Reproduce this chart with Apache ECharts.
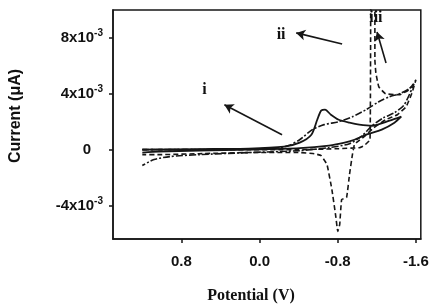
<!DOCTYPE html>
<html>
<head>
<meta charset="utf-8">
<script src="https://cdn.jsdelivr.net/npm/echarts@6/dist/echarts.min.js"></script>
<style>
html,body{margin:0;padding:0;background:#fff;}
#chart{width:433px;height:305px;}
</style>
</head>
<body>
<div id="chart"></div>
<script>
// Potential (V) and current (in units of 10^-3)
const potentialTicks = [0.8, 0.0, -0.8, -1.6];
const currentTicks = [-4, 0, 4, 8];

// curve i (solid)
const iPotential = [1.20, 0.62, 0.11, -0.25, -0.41, -0.53, -0.59, -0.63, -0.67, -0.73, -0.81, -0.92, -1.02, -1.15, -1.33, -1.45,
  -1.38, -1.25, -1.09, -0.97, -0.87, -0.71, -0.41, 0.11, 0.62, 1.03, 1.20];
const iCurrent = [0.00, 0.04, 0.07, 0.21, 0.50, 1.07, 2.14, 2.79, 2.86, 2.50, 2.14, 1.93, 1.79, 1.71, 2.07, 2.36,
  1.93, 1.43, 1.07, 0.71, 0.50, 0.29, 0.11, 0.00, -0.07, -0.14, -0.21];

// curve ii (dash-dot)
const iiPotential = [1.20, 0.62, 0.11, -0.20, -0.30, -0.41, -0.54, -0.66, -0.81, -0.95, -1.09, -1.22, -1.33, -1.43, -1.53, -1.58,
  -1.48, -1.38, -1.27, -1.15, -1.05, -0.92, -0.71, -0.41, 0.11, 0.62, 0.92, 1.08, 1.20];
const iiCurrent = [0.00, 0.00, 0.04, 0.14, 0.29, 0.71, 1.43, 1.79, 2.00, 2.36, 2.86, 3.43, 3.79, 4.00, 4.36, 4.71,
  3.21, 2.64, 2.29, 1.71, 1.00, 0.43, 0.14, -0.07, -0.21, -0.36, -0.50, -0.71, -1.14];

// curve iii (dashed) - goes off scale near -1.15 V
const iiiPotential = [1.20, 0.62, 0.11, -0.41, -0.81, -1.02, -1.07, -1.13, -1.14, -1.18, -1.18, -1.19, -1.22, -1.29, -1.43, -1.53, -1.60,
  -1.56, -1.50, -1.41, -1.29, -1.17, -1.07, -0.99, -0.97, -0.95, -0.92, -0.89, -0.84, -0.82, -0.80, -0.78, -0.74, -0.69, -0.63, -0.56, -0.41, 0.11, 0.62, 1.03, 1.20];
const iiiCurrent = [0.00, 0.00, 0.00, 0.00, 0.07, 0.14, 0.29, 0.71, 11.5, 11.5, 6.43, 5.50, 4.50, 4.00, 3.93, 4.29, 5.00,
  4.07, 3.07, 2.50, 2.14, 1.57, 0.93, 0.50, 0.36, -0.36, -1.79, -3.43, -3.57, -5.36, -5.86, -4.79, -2.86, -1.07, -0.43, -0.29, -0.21, -0.21, -0.29, -0.36, -0.36];

// annotation labels and arrows (potential, current)
const labelNames = ['i', 'ii', 'iii'];
const labelPos = [[0.565, 4.29], [-0.22, 8.21], [-1.19, 9.43]];
const arrowFrom = [[-0.23, 1.07], [-0.845, 7.57], [-1.294, 6.21]];
const arrowTo = [[0.36, 3.21], [-0.375, 8.36], [-1.202, 8.43]];

function pairs(xs, ys) { return xs.map((x, k) => [x, ys[k]]); }

const ink = '#161616';
const sans = '"Liberation Sans", Arial, sans-serif';
const serif = '"Liberation Serif", "Times New Roman", serif';
const chart = echarts.init(document.getElementById('chart'));
chart.setOption({
  animation: false,
  backgroundColor: '#fff',
  grid: { left: 113, right: 11, top: 10, bottom: 66, show: true, borderColor: ink, borderWidth: 1.5, backgroundColor: 'transparent' },
  xAxis: {
    type: 'value', inverse: true, min: -1.65, max: 1.5,
    axisLine: { show: true, onZero: false, lineStyle: { color: ink, width: 1.5 } },
    splitLine: { show: false },
    axisTick: { show: true, inside: false, length: 4, customValues: potentialTicks, lineStyle: { color: ink, width: 1.5 } },
    axisLabel: {
      customValues: potentialTicks, margin: 15,
      formatter: v => v.toFixed(1),
      color: '#111', fontFamily: sans, fontWeight: 'bold', fontSize: 15
    }
  },
  yAxis: {
    type: 'value', min: -6.4, max: 10,
    axisLine: { show: true, onZero: false, lineStyle: { color: ink, width: 1.5 } },
    splitLine: { show: false },
    axisTick: { show: true, inside: false, length: 4, customValues: currentTicks, lineStyle: { color: ink, width: 1.5 } },
    axisLabel: {
      customValues: currentTicks, margin: 10,
      formatter: v => (v === 0 ? '{z|0}' : '{b|' + v + 'x10}{sup|-3}'),
      color: '#111', fontFamily: sans, fontWeight: 'bold', fontSize: 15,
      rich: {
        b: { fontFamily: sans, fontWeight: 'bold', fontSize: 15, color: '#111' },
        z: { fontFamily: sans, fontWeight: 'bold', fontSize: 15, color: '#111', padding: [0, 12, 0, 0] },
        sup: { fontFamily: sans, fontWeight: 'bold', fontSize: 10, color: '#111', padding: [0, 0, 9, 0] }
      }
    }
  },
  graphic: [
    { type: 'text', x: 251, y: 296, style: { text: 'Potential (V)', align: 'center', verticalAlign: 'middle', font: 'bold 16px ' + serif, fill: '#111' } },
    { type: 'text', x: 16, y: 116, rotation: Math.PI / 2, style: { text: 'Current (\u03bcA)', align: 'center', verticalAlign: 'middle', font: 'bold 16px ' + sans, fill: '#111' } }
  ],
  series: [
    {
      type: 'line', name: 'i', data: pairs(iPotential, iCurrent), showSymbol: false, smooth: 0.25, clip: true,
      lineStyle: { color: ink, width: 1.8, type: 'solid' },
      markLine: {
        silent: true, symbol: ['none', 'arrow'], symbolSize: [8, 9],
        lineStyle: { color: ink, width: 1.6, type: 'solid' }, label: { show: false },
        data: arrowFrom.map((f, k) => [{ coord: f }, { coord: arrowTo[k] }])
      },
      markPoint: {
        silent: true, symbol: 'circle', symbolSize: 1, itemStyle: { color: 'transparent' },
        label: { show: true, position: 'inside', formatter: p => p.name, color: '#111', fontFamily: serif, fontWeight: 'bold', fontSize: 16 },
        data: labelNames.map((n, k) => ({ name: n, coord: labelPos[k] }))
      }
    },
    {
      type: 'line', name: 'ii', data: pairs(iiPotential, iiCurrent), showSymbol: false, smooth: 0.25, clip: true,
      lineStyle: { color: ink, width: 1.6, type: [7, 2, 2, 2] }
    },
    {
      type: 'line', name: 'iii', data: pairs(iiiPotential, iiiCurrent), showSymbol: false, smooth: 0.1, clip: true,
      lineStyle: { color: ink, width: 1.6, type: [5, 3] }
    }
  ]
});
</script>
</body>
</html>
